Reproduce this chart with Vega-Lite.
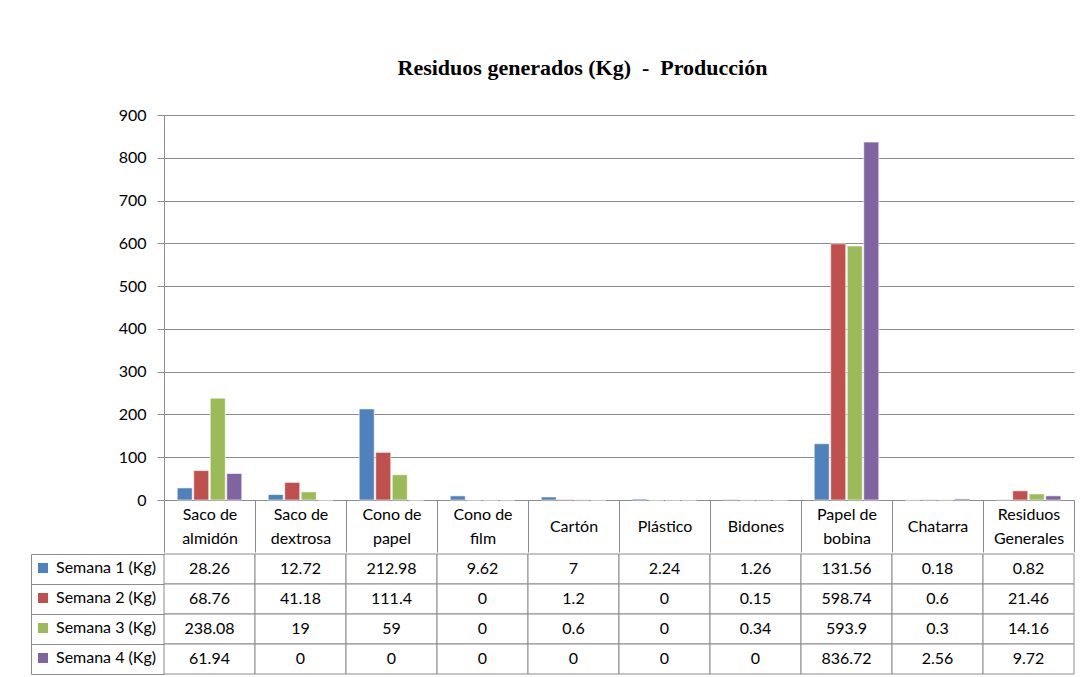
{
  "$schema": "https://vega.github.io/schema/vega-lite/v6.json",
  "padding": {"left": 30, "top": 57, "right": 8, "bottom": 4},
  "background": "white",
  "title": {"text": "Residuos generados (Kg) \u00a0-\u00a0 Producción", "font": "Liberation Serif", "fontSize": 22, "fontWeight": "bold", "color": "black", "anchor": "middle", "dx": 30, "offset": 26.75},
  "config": {"font": "Lato", "view": {"stroke": null}},
  "spacing": 0,
  "datasets": {
    "d": [
      {"c": "Saco de almidón", "s": "Semana 1 (Kg)", "v": 28.26},
      {"c": "Saco de dextrosa", "s": "Semana 1 (Kg)", "v": 12.72},
      {"c": "Cono de papel", "s": "Semana 1 (Kg)", "v": 212.98},
      {"c": "Cono de film", "s": "Semana 1 (Kg)", "v": 9.62},
      {"c": "Cartón", "s": "Semana 1 (Kg)", "v": 7},
      {"c": "Plástico", "s": "Semana 1 (Kg)", "v": 2.24},
      {"c": "Bidones", "s": "Semana 1 (Kg)", "v": 1.26},
      {"c": "Papel de bobina", "s": "Semana 1 (Kg)", "v": 131.56},
      {"c": "Chatarra", "s": "Semana 1 (Kg)", "v": 0.18},
      {"c": "Residuos Generales", "s": "Semana 1 (Kg)", "v": 0.82},
      {"c": "Saco de almidón", "s": "Semana 2 (Kg)", "v": 68.76},
      {"c": "Saco de dextrosa", "s": "Semana 2 (Kg)", "v": 41.18},
      {"c": "Cono de papel", "s": "Semana 2 (Kg)", "v": 111.4},
      {"c": "Cono de film", "s": "Semana 2 (Kg)", "v": 0},
      {"c": "Cartón", "s": "Semana 2 (Kg)", "v": 1.2},
      {"c": "Plástico", "s": "Semana 2 (Kg)", "v": 0},
      {"c": "Bidones", "s": "Semana 2 (Kg)", "v": 0.15},
      {"c": "Papel de bobina", "s": "Semana 2 (Kg)", "v": 598.74},
      {"c": "Chatarra", "s": "Semana 2 (Kg)", "v": 0.6},
      {"c": "Residuos Generales", "s": "Semana 2 (Kg)", "v": 21.46},
      {"c": "Saco de almidón", "s": "Semana 3 (Kg)", "v": 238.08},
      {"c": "Saco de dextrosa", "s": "Semana 3 (Kg)", "v": 19},
      {"c": "Cono de papel", "s": "Semana 3 (Kg)", "v": 59},
      {"c": "Cono de film", "s": "Semana 3 (Kg)", "v": 0},
      {"c": "Cartón", "s": "Semana 3 (Kg)", "v": 0.6},
      {"c": "Plástico", "s": "Semana 3 (Kg)", "v": 0},
      {"c": "Bidones", "s": "Semana 3 (Kg)", "v": 0.34},
      {"c": "Papel de bobina", "s": "Semana 3 (Kg)", "v": 593.9},
      {"c": "Chatarra", "s": "Semana 3 (Kg)", "v": 0.3},
      {"c": "Residuos Generales", "s": "Semana 3 (Kg)", "v": 14.16},
      {"c": "Saco de almidón", "s": "Semana 4 (Kg)", "v": 61.94},
      {"c": "Saco de dextrosa", "s": "Semana 4 (Kg)", "v": 0},
      {"c": "Cono de papel", "s": "Semana 4 (Kg)", "v": 0},
      {"c": "Cono de film", "s": "Semana 4 (Kg)", "v": 0},
      {"c": "Cartón", "s": "Semana 4 (Kg)", "v": 0},
      {"c": "Plástico", "s": "Semana 4 (Kg)", "v": 0},
      {"c": "Bidones", "s": "Semana 4 (Kg)", "v": 0},
      {"c": "Papel de bobina", "s": "Semana 4 (Kg)", "v": 836.72},
      {"c": "Chatarra", "s": "Semana 4 (Kg)", "v": 2.56},
      {"c": "Residuos Generales", "s": "Semana 4 (Kg)", "v": 9.72}
    ]
  },
  "vconcat": [
    {
      "width": 910,
      "height": 385,
      "data": {"name": "d"},
      "mark": {"type": "bar", "stroke": "white", "strokeWidth": 0.6},
      "encoding": {
        "x": {
          "field": "c", "type": "nominal",
          "sort": ["Saco de almidón", "Saco de dextrosa", "Cono de papel", "Cono de film", "Cartón", "Plástico", "Bidones", "Papel de bobina", "Chatarra", "Residuos Generales"],
          "scale": {"paddingInner": 0, "paddingOuter": 0},
          "axis": {
            "title": null, "labelAngle": 0, "domain": true, "domainColor": "#8c8c8c",
            "ticks": true, "tickSize": 52, "tickBand": "extent", "tickColor": "#8c8c8c",
            "labelPadding": {"condition": {"test": "indexof(datum.label, ' ') >= 0", "value": -38}, "value": -26},
            "labelBaseline": "middle", "labelFontSize": 16, "labelLineHeight": 24,
            "labelColor": "black", "labelFont": "Lato",
            "labelExpr": "indexof(datum.label, ' ') >= 0 ? [slice(datum.label, 0, lastindexof(datum.label, ' ')), slice(datum.label, lastindexof(datum.label, ' ') + 1)] : datum.label"
          }
        },
        "xOffset": {"field": "s", "type": "nominal", "scale": {"paddingInner": 0.09, "paddingOuter": 0.8}},
        "y": {
          "field": "v", "type": "quantitative",
          "scale": {"domain": [0, 900], "nice": false},
          "axis": {
            "title": null, "values": [0, 100, 200, 300, 400, 500, 600, 700, 800, 900],
            "grid": true, "gridColor": "#8c8c8c", "domain": true, "domainColor": "#8c8c8c",
            "tickSize": 7, "tickColor": "#8c8c8c", "labelPadding": 11, "labelFontSize": 16,
            "labelColor": "black", "labelFont": "Lato"
          }
        },
        "color": {
          "field": "s", "type": "nominal",
          "scale": {"range": ["#4F81BD", "#C0504D", "#9BBB59", "#8064A2"]},
          "legend": {
            "orient": "none", "legendX": -129, "legendY": 445, "title": null,
            "symbolType": "square", "symbolSize": 100, "symbolStrokeWidth": 0,
            "labelFontSize": 16, "labelFont": "Lato", "labelColor": "black", "labelOffset": 5,
            "rowPadding": 14, "padding": 0
          }
        }
      }
    },
    {
      "width": 910,
      "height": 120,
      "data": {"name": "d"},
      "encoding": {
        "x": {
          "field": "c", "type": "nominal",
          "sort": ["Saco de almidón", "Saco de dextrosa", "Cono de papel", "Cono de film", "Cartón", "Plástico", "Bidones", "Papel de bobina", "Chatarra", "Residuos Generales"],
          "scale": {"paddingInner": 0, "paddingOuter": 0},
          "axis": null
        },
        "y": {
          "field": "s", "type": "nominal",
          "scale": {"paddingInner": 0, "paddingOuter": 0},
          "axis": {
            "orient": "left", "offset": 133, "title": null, "labels": false,
            "domain": true, "domainColor": "#8c8c8c",
            "ticks": true, "tickSize": -133, "tickBand": "extent", "tickColor": "#8c8c8c",
            "grid": false
          }
        }
      },
      "layer": [
        {"mark": {"type": "rect", "fill": "white", "stroke": "#8c8c8c", "strokeWidth": 1}},
        {"mark": {"type": "text", "fontSize": 16, "font": "Lato", "color": "black"}, "encoding": {"text": {"field": "v", "type": "nominal"}}}
      ]
    }
  ]
}
